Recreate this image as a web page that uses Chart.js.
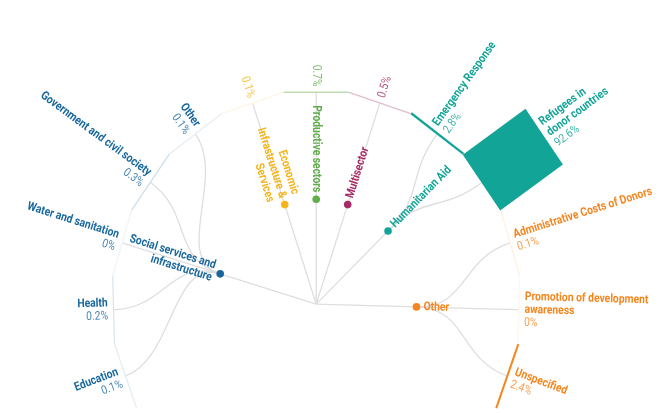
<!DOCTYPE html>
<html>
<head>
<meta charset="utf-8">
<script src="https://cdn.jsdelivr.net/npm/chart.js@4.4.0/dist/chart.umd.min.js"></script>
<style>
  html, body { margin: 0; padding: 0; background: #fff; }
  #wrap { width: 670px; height: 413px; position: relative; }
</style>
</head>
<body>
<div id="wrap"><canvas id="tree"></canvas></div>
<script>
// first level: sectors
var sectors = ['Social services and\ninfrastructure', 'Economic\nInfrastructure &\nServices', 'Productive sectors', 'Multisector', 'Humanitarian Aid', 'Other'];
var sectorColors = ['#17679d', '#f4b41a', '#5fae4a', '#a82a66', '#12a497', '#f5861f'];

// leaves, clockwise from the bottom left
var leafNames = ['Education', 'Health', 'Water and sanitation', 'Government and civil society', 'Other', '', '', '', 'Emergency Response', 'Refugees in\ndonor countries', 'Administrative Costs of Donors', 'Promotion of development\nawareness', 'Unspecified'];
var leafSector = [0, 0, 0, 0, 0, 1, 2, 3, 4, 4, 5, 5, 5];
var leafShares = [0.1, 0.2, 0, 0.3, 0.1, 0.1, 0.7, 0.5, 2.8, 92.6, 0.1, 0, 2.4];

// layout of the tree
var step = 18.3;                 // degrees per leaf
var firstAngle = -90 - 6 * step; // productive sectors leaf points straight up
var innerR = 0.49, leafR = 1;
var cond = 0.86;                 // narrow text

function rad(d) { return d * Math.PI / 180; }
function pt(a, r) { return { x: r * Math.cos(rad(a)), y: -r * Math.sin(rad(a)) }; }

var leafAngles = leafShares.map(function (v, i) { return firstAngle + i * step; });
var sectorAngles = sectors.map(function (s, k) {
    var sum = 0, n = 0;
    leafSector.forEach(function (g, i) { if (g === k) { sum += leafAngles[i]; n++; } });
    return sum / n;
});
var nodePoints = sectorAngles.map(function (a) { return pt(a, innerR); });

function hexA(hex, a) {
    var n = parseInt(hex.slice(1), 16);
    return 'rgba(' + (n >> 16) + ',' + ((n >> 8) & 255) + ',' + (n & 255) + ',' + a + ')';
}

function drawLabel(ctx, x, y, ang, lines, lh) {
    var right = Math.cos(ang) > 0.01;
    ctx.save();
    ctx.translate(x, y);
    ctx.rotate(right ? ang : ang + Math.PI);
    ctx.scale(cond, 1);
    ctx.textAlign = right ? 'left' : 'right';
    ctx.textBaseline = 'middle';
    lines.forEach(function (l, i) {
        ctx.font = l.font;
        ctx.fillStyle = l.color;
        ctx.fillText(l.text, 0, (i - (lines.length - 1) / 2) * lh);
    });
    ctx.restore();
}

function barWidth(v) { return Math.max(v * 0.84, 1.3); }

var treePlugin = {
    id: 'tree',
    beforeDatasetsDraw: function (chart) {
        var ctx = chart.ctx, xs = chart.scales.x, ys = chart.scales.y;
        function px(p) { return { x: xs.getPixelForValue(p.x), y: ys.getPixelForValue(p.y) }; }
        var root = px({ x: 0, y: 0 });
        ctx.save();
        ctx.strokeStyle = '#dedede';
        ctx.lineWidth = 1.3;
        // root links
        nodePoints.forEach(function (p) {
            var q = px(p);
            ctx.beginPath();
            ctx.moveTo(root.x, root.y);
            ctx.lineTo(q.x, q.y);
            ctx.stroke();
        });
        // sector -> leaf links
        var tr = leafR * Math.cos(rad(step / 2));
        leafAngles.forEach(function (a, i) {
            var s = sectorAngles[leafSector[i]], m = (innerR + tr) / 2;
            var p0 = px(pt(s, innerR)), c1 = px(pt(s, m)), c2 = px(pt(a, m)), p3 = px(pt(a, tr));
            ctx.beginPath();
            ctx.moveTo(p0.x, p0.y);
            ctx.bezierCurveTo(c1.x, c1.y, c2.x, c2.y, p3.x, p3.y);
            ctx.stroke();
        });
        // leaf bars
        leafAngles.forEach(function (a, i) {
            var A = px(pt(a - step / 2, leafR)), B = px(pt(a + step / 2, leafR));
            var o1 = px(pt(a, 1)), o2 = px(pt(a, 2));
            var dx = o2.x - o1.x, dy = o2.y - o1.y, d = Math.hypot(dx, dy);
            var t = barWidth(leafShares[i]);
            dx = dx / d * t; dy = dy / d * t;
            ctx.fillStyle = hexA(sectorColors[leafSector[i]], Math.min(1, 0.07 + leafShares[i] * 0.5));
            ctx.beginPath();
            ctx.moveTo(A.x, A.y);
            ctx.lineTo(B.x, B.y);
            ctx.lineTo(B.x + dx, B.y + dy);
            ctx.lineTo(A.x + dx, A.y + dy);
            ctx.closePath();
            ctx.fill();
        });
        ctx.restore();
    },
    afterDatasetsDraw: function (chart) {
        var ctx = chart.ctx, xs = chart.scales.x, ys = chart.scales.y;
        function px(p) { return { x: xs.getPixelForValue(p.x), y: ys.getPixelForValue(p.y) }; }
        var root = px({ x: 0, y: 0 });
        // sector labels
        sectors.forEach(function (s, k) {
            var q = px(nodePoints[k]);
            var ang = Math.atan2(q.y - root.y, q.x - root.x);
            var x = q.x + Math.cos(ang) * 7, y = q.y + Math.sin(ang) * 7;
            var lines = s.split('\n').map(function (t) {
                return { text: t, font: 'bold 12px Roboto', color: sectorColors[k] };
            });
            drawLabel(ctx, x, y, ang, lines, 13);
        });
        // leaf labels
        var tr = leafR * Math.cos(rad(step / 2));
        leafAngles.forEach(function (a, i) {
            var q = px(pt(a, tr));
            var ang = Math.atan2(q.y - root.y, q.x - root.x);
            var off = barWidth(leafShares[i]) + 5;
            var x = q.x + Math.cos(ang) * off, y = q.y + Math.sin(ang) * off;
            var col = sectorColors[leafSector[i]];
            var lines = [];
            if (leafNames[i]) {
                leafNames[i].split('\n').forEach(function (t) {
                    lines.push({ text: t, font: 'bold 12px Roboto', color: col });
                });
            }
            lines.push({ text: leafShares[i] + '%', font: '12px Roboto', color: hexA(col, 0.8) });
            drawLabel(ctx, x, y, ang, lines, 13);
        });
    }
};

var pxX = 207, pxY = 218, rootX = 316, rootY = 306;
new Chart(document.getElementById('tree'), {
    type: 'scatter',
    data: {
        datasets: [{
            data: nodePoints,
            pointRadius: 3.8,
            pointHoverRadius: 3.8,
            pointBorderWidth: 0,
            pointBackgroundColor: sectorColors,
            clip: false
        }]
    },
    options: {
        responsive: true,
        maintainAspectRatio: false,
        animation: false,
        layout: { padding: 0 },
        plugins: { legend: { display: false }, tooltip: { enabled: false } },
        scales: {
            x: { type: 'linear', display: false, min: -rootX / pxX, max: (670 - rootX) / pxX },
            y: { type: 'linear', display: false, min: -(413 - rootY) / pxY, max: rootY / pxY }
        }
    },
    plugins: [treePlugin]
});
</script>
</body>
</html>
